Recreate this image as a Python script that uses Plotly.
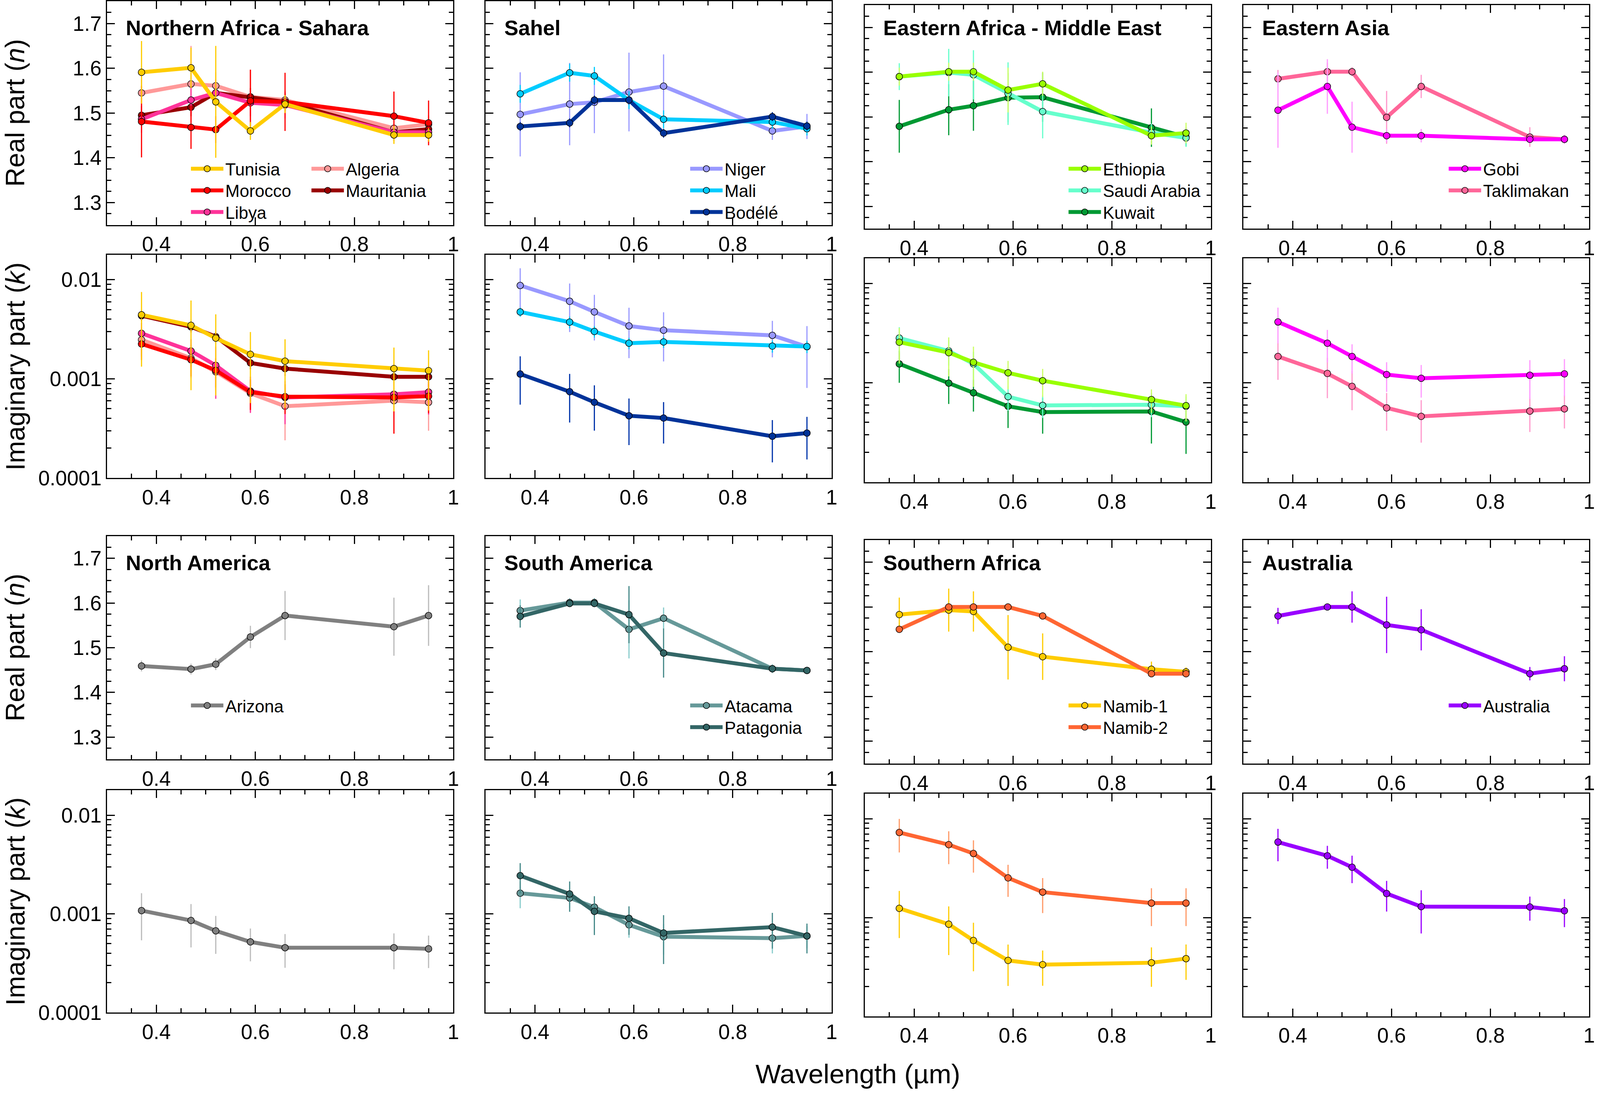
import plotly.graph_objects as go

REF_W, REF_H = 4445, 2797          # reference picture size (pixel coordinates below refer to it)
FIG_W, FIG_H = 4096, 2797          # size the browser actually offers (re-fitted in JS if different)
FONT = "Liberation Sans"

# ---------------- data ----------------
wavelength = [0.37, 0.47, 0.52, 0.59, 0.66, 0.88, 0.95]

region_titles = ["Northern Africa - Sahara", "Sahel", "Eastern Africa - Middle East", "Eastern Asia",
                 "North America", "South America", "Southern Africa", "Australia"]

# Northern Africa - Sahara
algeria_n = [1.545, 1.565, 1.561, 1.536, 1.529, 1.466, 1.475]
algeria_n_err = [0.03, 0.085, 0.03, 0.06, 0.02, 0.02, 0.02]
algeria_k = [0.00248, 0.00162, 0.00118, 0.000715, 0.00053, 0.000603, 0.00058]
algeria_k_err = [0.0008, 0.0006, 0.0004, 0.00025, 0.00029, 0.0003, 0.00028]
mauritania_n = [1.495, 1.513, 1.545, 1.536, 1.525, 1.457, 1.464]
mauritania_n_err = [0.02, 0.02, 0.02, 0.02, 0.02, 0.02, 0.02]
mauritania_k = [0.00434, 0.00335, 0.00267, 0.00145, 0.00127, 0.00105, 0.00105]
mauritania_k_err = [0.0005, 0.0004, 0.0003, 0.0002, 0.0002, 0.0002, 0.0002]
libya_n = [1.486, 1.529, 1.545, 1.523, 1.518, 1.457, 1.457]
libya_n_err = [0.03, 0.03, 0.03, 0.03, 0.03, 0.02, 0.02]
libya_k = [0.00288, 0.00191, 0.00137, 0.000753, 0.000649, 0.0007, 0.000736]
libya_k_err = [0.0008, 0.0006, 0.00074, 0.0003, 0.0003, 0.0003, 0.0003]
morocco_n = [1.481, 1.468, 1.463, 1.527, 1.525, 1.493, 1.478]
morocco_n_err = [0.08, 0.048, 0.03, 0.07, 0.065, 0.055, 0.05]
morocco_k = [0.00225, 0.00156, 0.00122, 0.000736, 0.000662, 0.00065, 0.00067]
morocco_k_err = [0.0007, 0.0005, 0.0004, 0.00025, 0.00022, 0.00037, 0.00022]
tunisia_n = [1.591, 1.601, 1.525, 1.460, 1.520, 1.451, 1.451]
tunisia_n_err = [0.07, 0.045, 0.125, 0.02, 0.02, 0.02, 0.015]
tunisia_k = [0.00443, 0.00347, 0.00258, 0.00177, 0.00151, 0.00127, 0.00121]
tunisia_k_err = [0.0031, 0.0027, 0.0019, 0.0012, 0.001, 0.0008, 0.00073]

# Sahel
niger_n = [1.497, 1.520, 1.524, 1.547, 1.560, 1.460, 1.470]
niger_n_err = [0.094, 0.092, 0.069, 0.088, 0.071, 0.02, 0.028]
niger_k = [0.00875, 0.00607, 0.00474, 0.00342, 0.0031, 0.00275, 0.00211]
niger_k_err = [0.0043, 0.0031, 0.0023, 0.0018, 0.0016, 0.0011, 0.0013]
mali_n = [1.543, 1.590, 1.583, 1.529, 1.486, 1.480, 1.465]
mali_n_err = [0.02, 0.02, 0.02, 0.02, 0.02, 0.015, 0.015]
mali_k = [0.00474, 0.00374, 0.00301, 0.00229, 0.00236, 0.00214, 0.00212]
mali_k_err = [0.0005, 0.0005, 0.0004, 0.0003, 0.0003, 0.0003, 0.0003]
bodele_n = [1.470, 1.478, 1.529, 1.529, 1.455, 1.492, 1.471]
bodele_n_err = [0.01, 0.01, 0.01, 0.01, 0.01, 0.01, 0.01]
bodele_k = [0.00112, 0.000743, 0.000581, 0.000425, 0.000403, 0.000264, 0.000284]
bodele_k_err = [0.00057, 0.00038, 0.00028, 0.00021, 0.00018, 0.00012, 0.00013]

# Eastern Africa - Middle East
kuwait_n = [1.479, 1.516, 1.525, 1.543, 1.544, 1.476, 1.455]
kuwait_n_err = [0.059, 0.057, 0.056, 0.055, 0.055, 0.043, 0.02]
kuwait_k = [0.00155, 0.000993, 0.000794, 0.000581, 0.000508, 0.000515, 0.000403]
kuwait_k_err = [0.00055, 0.00038, 0.00028, 0.00023, 0.0002, 0.00027, 0.00021]
saudi_n = [1.590, 1.599, 1.594, 1.552, 1.512, 1.465, 1.453]
saudi_n_err = [0.03, 0.053, 0.055, 0.07, 0.06, 0.02, 0.02]
saudi_k = [0.00282, 0.00209, 0.00155, 0.000726, 0.000593, 0.000602, 0.00058]
saudi_k_err = [0.0008, 0.0006, 0.0005, 0.0002, 0.00015, 0.00015, 0.00015]
ethiopia_n = [1.590, 1.601, 1.601, 1.560, 1.574, 1.458, 1.464]
ethiopia_n_err = [0.02, 0.02, 0.02, 0.05, 0.027, 0.02, 0.023]
ethiopia_k = [0.00256, 0.00201, 0.00161, 0.00126, 0.00105, 0.000679, 0.000589]
ethiopia_k_err = [0.001, 0.00085, 0.0007, 0.0004, 0.00033, 0.00018, 0.00018]

# Eastern Asia
taklimakan_n = [1.585, 1.601, 1.601, 1.499, 1.568, 1.455, 1.450]
taklimakan_n_err = [0.02, 0.02, 0.01, 0.059, 0.026, 0.022, 0.01]
taklimakan_k = [0.00184, 0.00124, 0.00092, 0.00056, 0.00046, 0.00052, 0.000547]
taklimakan_k_err = [0.00077, 0.00054, 0.00039, 0.00023, 0.00021, 0.0002, 0.0002]
gobi_n = [1.515, 1.568, 1.477, 1.458, 1.458, 1.450, 1.450]
gobi_n_err = [0.084, 0.061, 0.057, 0.015, 0.015, 0.01, 0.01]
gobi_k = [0.00409, 0.0025, 0.00184, 0.00121, 0.00111, 0.00119, 0.00123]
gobi_k_err = [0.0016, 0.0009, 0.0006, 0.0004, 0.0004, 0.0005, 0.0005]

# North America
arizona_n = [1.459, 1.452, 1.463, 1.524, 1.572, 1.547, 1.572]
arizona_n_err = [0.012, 0.012, 0.013, 0.025, 0.055, 0.065, 0.068]
arizona_k = [0.00108, 0.000857, 0.000673, 0.00052, 0.000454, 0.000454, 0.000442]
arizona_k_err = [0.00054, 0.0004, 0.00028, 0.00019, 0.00017, 0.00018, 0.00016]

# South America
atacama_n = [1.583, 1.601, 1.601, 1.541, 1.566, 1.453, 1.449]
atacama_n_err = [0.025, 0.01, 0.01, 0.065, 0.024, 0.01, 0.005]
atacama_k = [0.00162, 0.00145, 0.00117, 0.000773, 0.000587, 0.000567, 0.000597]
atacama_k_err = [0.00048, 0.0003, 0.0003, 0.0002, 0.0002, 0.00017, 0.00015]
patagonia_n = [1.570, 1.599, 1.599, 1.574, 1.488, 1.453, 1.449]
patagonia_n_err = [0.025, 0.005, 0.005, 0.064, 0.055, 0.005, 0.005]
patagonia_k = [0.00244, 0.00159, 0.00106, 0.000902, 0.00064, 0.000734, 0.000597]
patagonia_k_err = [0.00083, 0.00054, 0.00045, 0.00029, 0.00033, 0.00029, 0.0002]

# Southern Africa
namib1_n = [1.583, 1.593, 1.590, 1.510, 1.489, 1.461, 1.455]
namib1_n_err = [0.038, 0.048, 0.045, 0.072, 0.052, 0.017, 0.01]
namib1_k = [0.00124, 0.000857, 0.000586, 0.000368, 0.000334, 0.000349, 0.000384]
namib1_k_err = [0.00062, 0.00044, 0.0003, 0.000165, 0.00013, 0.00015, 0.00015]
namib2_n = [1.550, 1.600, 1.600, 1.600, 1.580, 1.451, 1.451]
namib2_n_err = [0.005, 0.005, 0.005, 0.005, 0.005, 0.005, 0.005]
namib2_k = [0.00726, 0.00547, 0.00445, 0.00252, 0.00181, 0.0014, 0.0014]
namib2_k_err = [0.0027, 0.002, 0.0016, 0.0009, 0.0007, 0.00058, 0.00058]

# Australia
australia_n = [1.580, 1.600, 1.600, 1.560, 1.549, 1.451, 1.462]
australia_n_err = [0.018, 0.005, 0.035, 0.063, 0.046, 0.015, 0.028]
australia_k = [0.00581, 0.00422, 0.00323, 0.00175, 0.00129, 0.00128, 0.00117]
australia_k_err = [0.0021, 0.0011, 0.001, 0.0006, 0.0006, 0.00035, 0.00037]

n_tickvals = [1.3, 1.4, 1.5, 1.6, 1.7]
n_ticktext = ["1.3", "1.4", "1.5", "1.6", "1.7"]
k_tickvals = [0.0001, 0.001, 0.01]
k_ticktext = ["0.0001", "0.001", "0.01"]
x_tickvals = [0.4, 0.6, 0.8, 1.0]
x_ticktext = ["0.4", "0.6", "0.8", "1"]

# (name, region, line colour, error colour, n, n_err, k, k_err, legend column, legend row); drawn in this order
series = [
    ("Algeria", 0, "#FF9999", "#FF9999", algeria_n, algeria_n_err, algeria_k, algeria_k_err, 1, 0),
    ("Mauritania", 0, "#990000", "#990000", mauritania_n, mauritania_n_err, mauritania_k, mauritania_k_err, 1, 1),
    ("Libya", 0, "#FF3399", "#FF3399", libya_n, libya_n_err, libya_k, libya_k_err, 0, 2),
    ("Morocco", 0, "#FF0000", "#FF0000", morocco_n, morocco_n_err, morocco_k, morocco_k_err, 0, 1),
    ("Tunisia", 0, "#FFCC00", "#FFCC00", tunisia_n, tunisia_n_err, tunisia_k, tunisia_k_err, 0, 0),
    ("Niger", 1, "#9999FF", "#9999FF", niger_n, niger_n_err, niger_k, niger_k_err, 0, 0),
    ("Mali", 1, "#00CCFF", "#00CCFF", mali_n, mali_n_err, mali_k, mali_k_err, 0, 1),
    ("Bodélé", 1, "#003399", "#0033AA", bodele_n, bodele_n_err, bodele_k, bodele_k_err, 0, 2),
    ("Kuwait", 2, "#009933", "#009933", kuwait_n, kuwait_n_err, kuwait_k, kuwait_k_err, 0, 2),
    ("Saudi Arabia", 2, "#66FFCC", "#66FFCC", saudi_n, saudi_n_err, saudi_k, saudi_k_err, 0, 1),
    ("Ethiopia", 2, "#99FF00", "#CCFF66", ethiopia_n, ethiopia_n_err, ethiopia_k, ethiopia_k_err, 0, 0),
    ("Taklimakan", 3, "#FF6699", "#FF99CC", taklimakan_n, taklimakan_n_err, taklimakan_k, taklimakan_k_err, 0, 1),
    ("Gobi", 3, "#FF00FF", "#FF99FF", gobi_n, gobi_n_err, gobi_k, gobi_k_err, 0, 0),
    ("Arizona", 4, "#808080", "#BBBBBB", arizona_n, arizona_n_err, arizona_k, arizona_k_err, 0, 0),
    ("Atacama", 5, "#669999", "#88CCCC", atacama_n, atacama_n_err, atacama_k, atacama_k_err, 0, 0),
    ("Patagonia", 5, "#336666", "#448888", patagonia_n, patagonia_n_err, patagonia_k, patagonia_k_err, 0, 1),
    ("Namib-1", 6, "#FFCC00", "#FFCC00", namib1_n, namib1_n_err, namib1_k, namib1_k_err, 0, 0),
    ("Namib-2", 6, "#FF6633", "#FF9966", namib2_n, namib2_n_err, namib2_k, namib2_k_err, 0, 1),
    ("Australia", 7, "#9900FF", "#9900FF", australia_n, australia_n_err, australia_k, australia_k_err, 0, 0),
]

# ---------------- layout geometry (reference pixels) ----------------
col_x = [(298, 1264), (1354, 2319), (2411, 3376), (3467, 4431)]
rows_left = [(2, 581), (658, 1236), (1386, 1964), (2044, 2619)]
rows_right = [(12, 591), (667, 1247), (1396, 1975), (2053, 2629)]
legend_sym_x = [533, 1925, 2980, 4040]
legend_sym_x2 = 869
legend_row_y = [436, 1825]
legend_row_step = 56
XS = FIG_W / REF_W  # horizontal scale from reference pixels to figure pixels


def px_x(v):
    return v / REF_W


def px_y(v):
    return 1 - v / REF_H


fig = go.Figure()
layout = dict(
    width=FIG_W, height=FIG_H, autosize=False,
    margin=dict(l=0, r=0, t=0, b=0),
    paper_bgcolor="white", plot_bgcolor="white",
    showlegend=True,
    font=dict(family=FONT, color="black"),
)

annotations = []


def axis_id(p):
    return "" if p == 1 else str(p)


for reg in range(8):
    pair = reg // 4
    col = reg % 4
    rows = rows_left if col < 2 else rows_right
    for part in range(2):  # 0 = n, 1 = k
        p = reg * 2 + part + 1
        top, bot = rows[pair * 2 + part]
        xl, xr = col_x[col]
        xa = dict(
            domain=[px_x(xl), px_x(xr)], range=[0.3, 1.0],
            anchor="y" + axis_id(p),
            showline=True, linecolor="black", linewidth=3, mirror="ticks",
            ticks="inside", ticklen=20, tickwidth=2.5, tickcolor="black",
            tickvals=x_tickvals, ticktext=x_ticktext,
            tickfont=dict(size=53, family=FONT, color="black"),
            minor=dict(ticks="inside", ticklen=11, tickwidth=2.5, tickcolor="black", dtick=0.05, tick0=0),
            showgrid=False, zeroline=False, ticklabelstandoff=1,
        )
        if part == 0:
            ya = dict(range=[1.25, 1.75], tickvals=n_tickvals, ticktext=n_ticktext,
                      minor=dict(ticks="inside", ticklen=11, tickwidth=2.5, tickcolor="black",
                                 dtick=0.025, tick0=0))
        else:
            ya = dict(type="log", range=[-4, -1.747], tickvals=k_tickvals, ticktext=k_ticktext,
                      minor=dict(ticks="inside", ticklen=11, tickwidth=2.5, tickcolor="black",
                                 tickvals=[m * d for d in [0.0001, 0.001, 0.01] for m in range(2, 10)]))
        ya.update(
            domain=[px_y(bot), px_y(top)], anchor="x" + axis_id(p),
            showline=True, linecolor="black", linewidth=3, mirror="ticks",
            ticks="inside", ticklen=20, tickwidth=2.5, tickcolor="black",
            tickfont=dict(size=53, family=FONT, color="black"),
            showticklabels=(col == 0), showgrid=False, zeroline=False, ticklabelstandoff=0,
        )
        layout["xaxis" + axis_id(p)] = xa
        layout["yaxis" + axis_id(p)] = ya
    annotations.append(dict(
        text="<b>" + region_titles[reg] + "</b>", xref="paper", yref="paper",
        x=px_x(col_x[col][0] + 50), y=px_y(71 if pair == 0 else 1455),
        xanchor="left", yanchor="middle", showarrow=False,
        font=dict(size=54, family=FONT, color="black"),
    ))

legend_count = 0
for (name, reg, color, ecolor, nvals, nerr, kvals, kerr, lcol, lrow) in series:
    legend_count += 1
    lname = "legend" if legend_count == 1 else "legend" + str(legend_count)
    pair = reg // 4
    col = reg % 4
    sx = legend_sym_x2 if lcol == 1 else legend_sym_x[col]
    sy = legend_row_y[pair] + lrow * legend_row_step
    layout[lname] = dict(
        x=px_x(sx - 6), y=px_y(sy), xanchor="left", yanchor="middle",
        bgcolor="rgba(0,0,0,0)", borderwidth=0,
        font=dict(size=44, family=FONT, color="black"),
        itemwidth=round(90 * XS),
    )
    for part in range(2):
        p = reg * 2 + part + 1
        tr = dict(
            x=wavelength, y=nvals if part == 0 else kvals, mode="lines+markers", name=name,
            xaxis="x" + axis_id(p), yaxis="y" + axis_id(p),
            line=dict(color=color, width=10),
            marker=dict(symbol="circle", size=17, color=color, line=dict(color="black", width=1.5)),
            error_y=dict(type="data", array=nerr if part == 0 else kerr, visible=True,
                         thickness=3, width=0, color=ecolor),
            showlegend=(part == 0), legend=lname,
        )
        fig.add_trace(go.Scatter(**tr))

for txt, rr in [("Real part (<i>n</i>)", rows_left[0]), ("Imaginary part (<i>k</i>)", rows_left[1]),
                ("Real part (<i>n</i>)", rows_left[2]), ("Imaginary part (<i>k</i>)", rows_left[3])]:
    annotations.append(dict(
        text=txt, xref="paper", yref="paper", x=px_x(42), y=px_y((rr[0] + rr[1]) / 2),
        xanchor="center", yanchor="middle", textangle=-90, showarrow=False,
        font=dict(size=68, family=FONT, color="black"),
    ))
annotations.append(dict(
    text="Wavelength (µm)", xref="paper", yref="paper", x=px_x(2392), y=0,
    xanchor="center", yanchor="bottom", yshift=-22, showarrow=False,
    font=dict(size=69, family=FONT, color="black"),
))
layout["annotations"] = annotations
fig.update_layout(**layout)

# fit the figure to the real viewport (fills it exactly; nothing cut off) and thicken legend lines
fit_js = """
(function(){
  var gd = document.getElementById('{plot_id}');
  document.body.style.margin = '0';
  document.documentElement.style.overflow = 'hidden';
  document.body.style.overflow = 'hidden';
  function thick(){
    gd.querySelectorAll('.legendlines path').forEach(function(p){ p.style.strokeWidth = '10px'; });
  }
  thick();
  var w = window.innerWidth, h = window.innerHeight;
  if (w > 0 && h > 0 && (Math.abs(w - %d) > 2 || Math.abs(h - %d) > 2)) {
    Plotly.relayout(gd, {width: w, height: h}).then(thick);
  }
})();
""" % (FIG_W, FIG_H)
fig.write_html("out.html", post_script=fit_js, config={"displayModeBar": False})
